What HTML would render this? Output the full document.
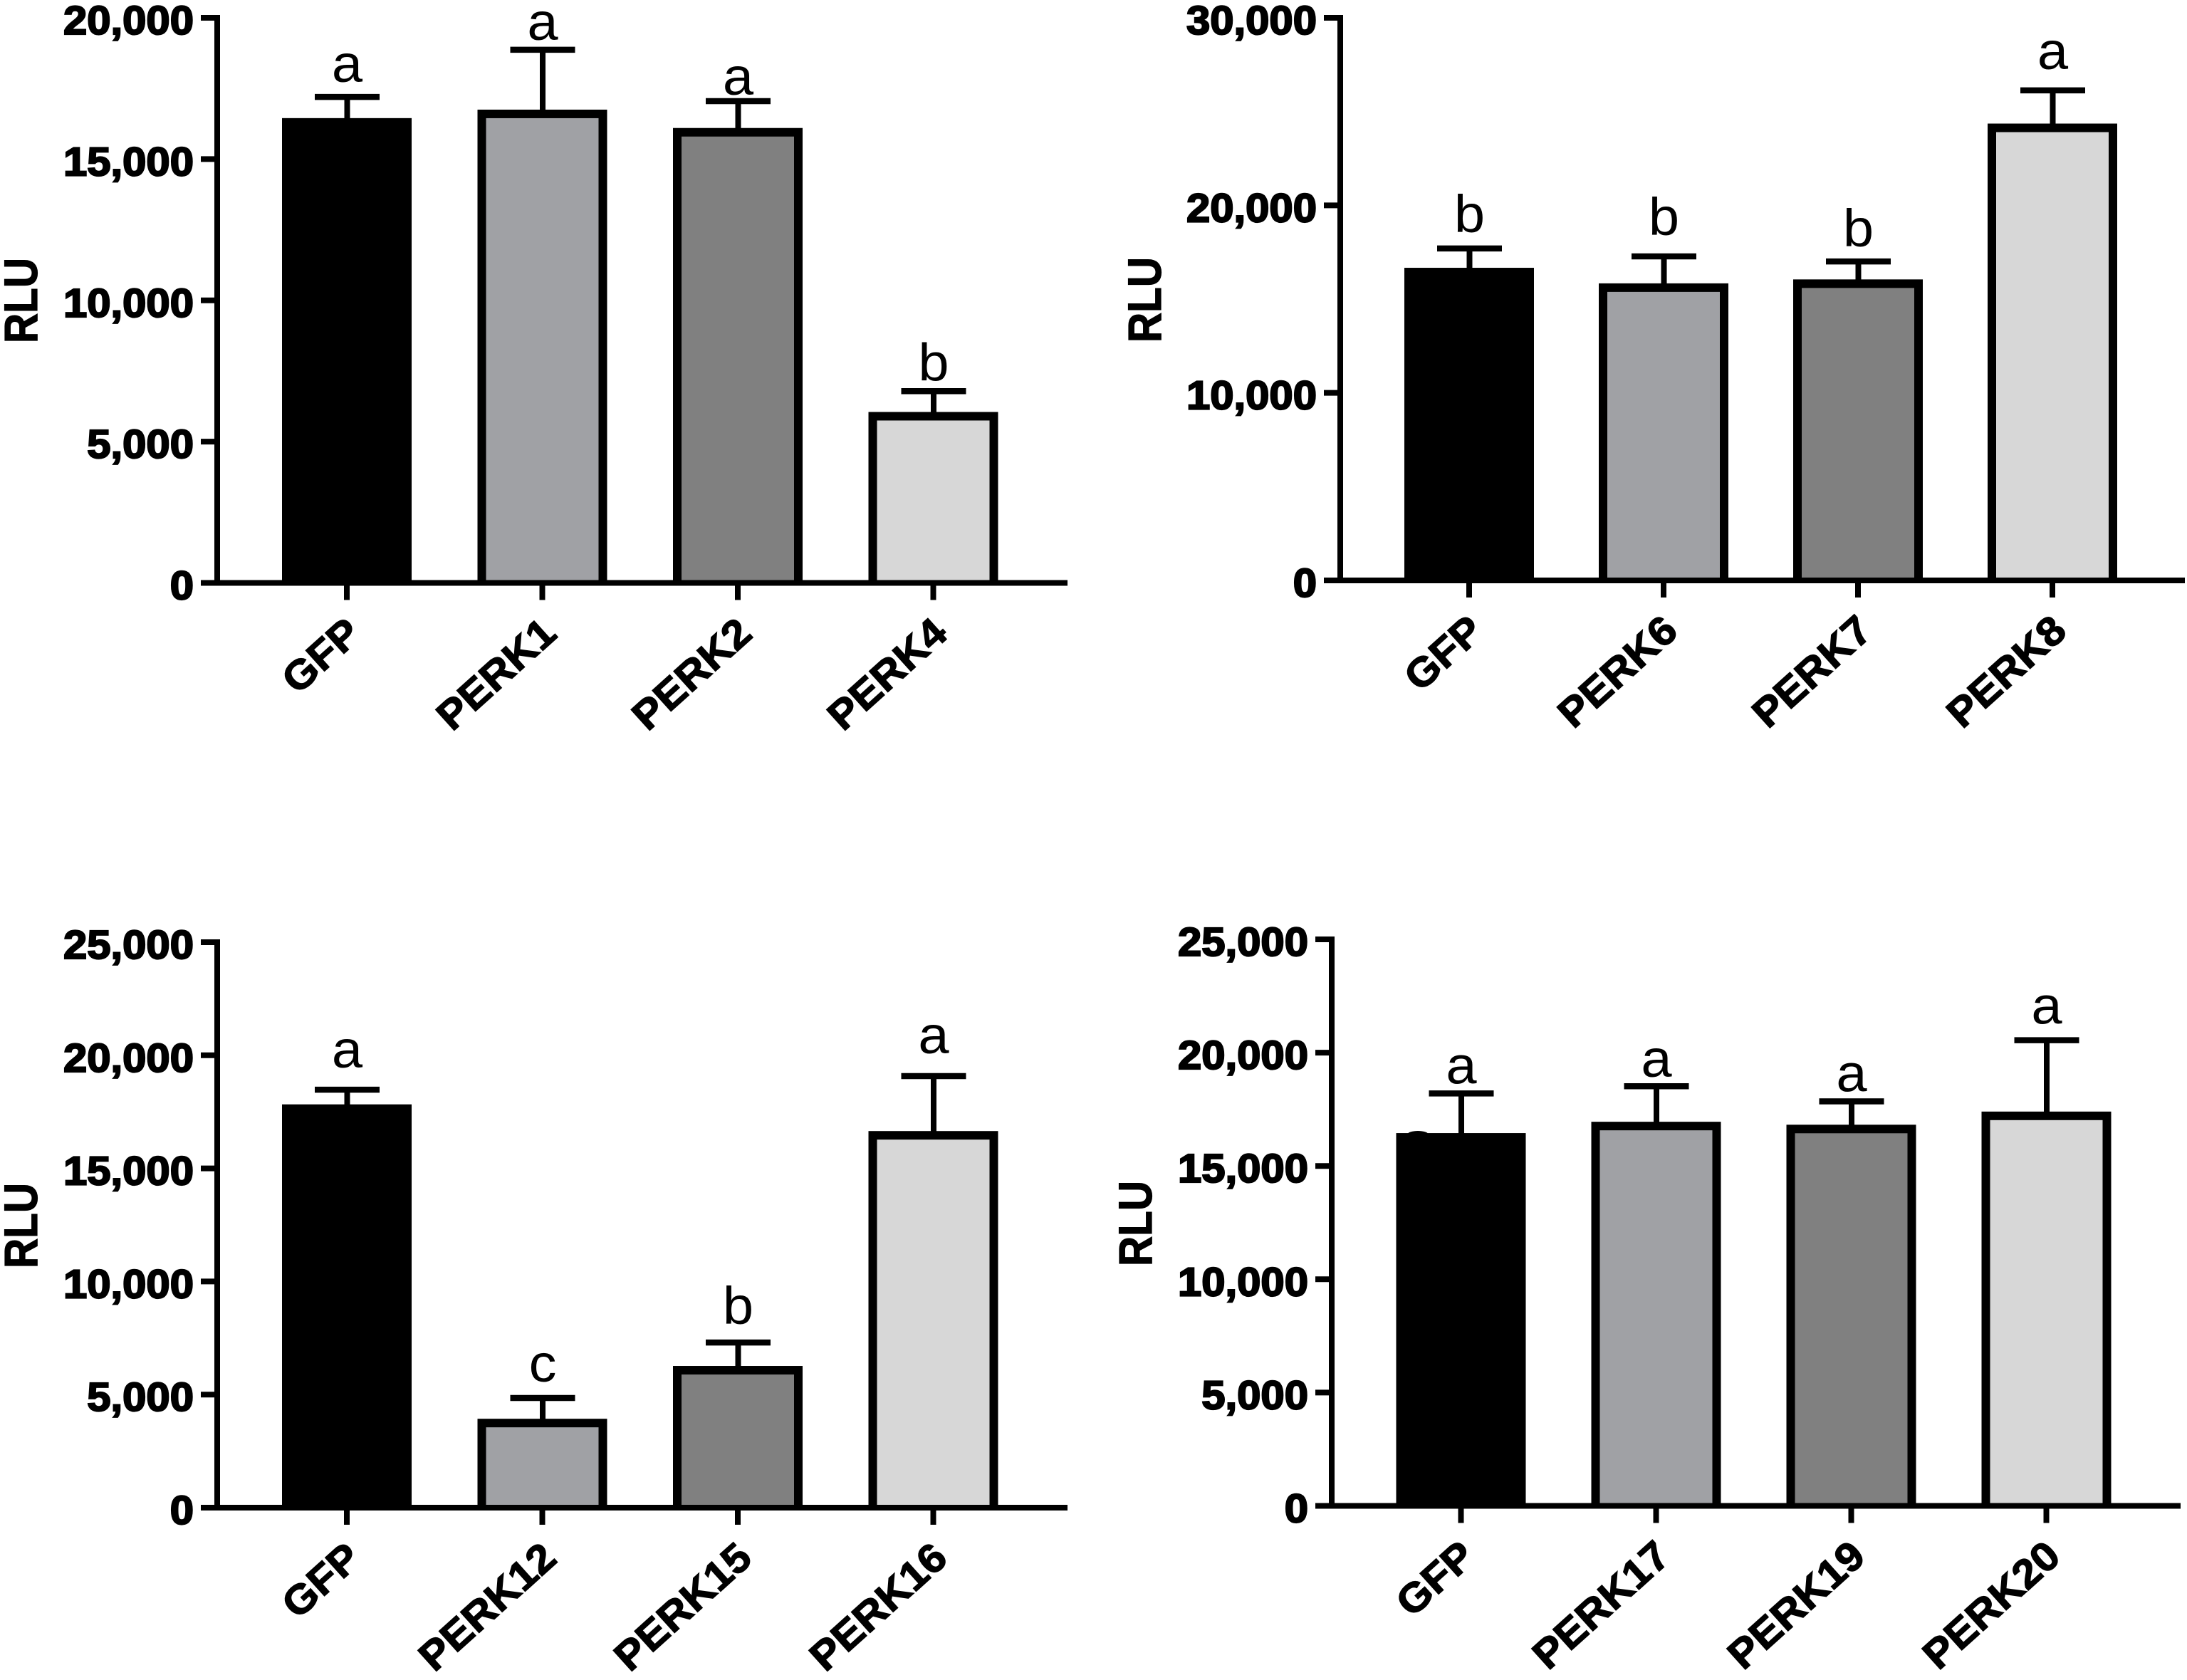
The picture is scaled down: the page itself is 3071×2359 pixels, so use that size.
<!DOCTYPE html>
<html lang="en">
<head>
<meta charset="utf-8">
<title>RLU bar charts for PERK constructs</title>
<style>
html,body{margin:0;padding:0;background:#fff;width:3071px;height:2359px;overflow:hidden}
svg{display:block}
text{font-family:"Liberation Sans",Arial,sans-serif;fill:#000}
.ytick{font-weight:700;font-size:57px;stroke:#000;stroke-width:2.2px;text-anchor:end}
.xtick{font-weight:700;font-size:57px;stroke:#000;stroke-width:1.4px;text-anchor:end}
.ytitle{font-weight:700;font-size:66px;text-anchor:middle;stroke:#000;stroke-width:1.2px}
.letter{font-weight:400;font-size:74px;text-anchor:middle}
</style>
</head>
<body>
<svg id="figure" xmlns="http://www.w3.org/2000/svg" width="3071" height="2359" viewBox="0 0 3071 2359"></svg>
<script>
// Panel A
const categoriesA = ["GFP", "PERK1", "PERK2", "PERK4"];
const meansA = [16450, 16750, 16100, 6050];
const errorTopsA = [17200, 18870, 17050, 6785];
const lettersA = ["a", "a", "a", "b"];
const tickValuesA = [0, 5000, 10000, 15000, 20000];
const tickLabelsA = ["0", "5,000", "10,000", "15,000", "20,000"];

// Panel B
const categoriesB = ["GFP", "PERK6", "PERK7", "PERK8"];
const meansB = [16670, 15840, 16050, 24360];
const errorTopsB = [17700, 17280, 17010, 26130];
const lettersB = ["b", "b", "b", "a"];
const tickValuesB = [0, 10000, 20000, 30000];
const tickLabelsB = ["0", "10,000", "20,000", "30,000"];

// Panel C
const categoriesC = ["GFP", "PERK12", "PERK15", "PERK16"];
const meansC = [17830, 3930, 6265, 16650];
const errorTopsC = [18480, 4850, 7300, 19080];
const lettersC = ["a", "c", "b", "a"];
const tickValuesC = [0, 5000, 10000, 15000, 20000, 25000];
const tickLabelsC = ["0", "5,000", "10,000", "15,000", "20,000", "25,000"];

// Panel D
const categoriesD = ["GFP", "PERK17", "PERK19", "PERK20"];
const meansD = [16450, 16950, 16820, 17400];
const errorTopsD = [18200, 18520, 17850, 20550];
const lettersD = ["a", "a", "a", "a"];
const tickValuesD = [0, 5000, 10000, 15000, 20000, 25000];
const tickLabelsD = ["0", "5,000", "10,000", "15,000", "20,000", "25,000"];

const fills = ["#000000", "#a0a1a5", "#808080", "#d7d7d7"];

const panels = [
  {id:"a", cats:categoriesA, means:meansA, tops:errorTopsA, letters:lettersA, ticks:tickValuesA, labels:tickLabelsA,
   axisX:305, topY:25, zeroY:818.5, firstX:487, step:274.5, endX:1499, titleX:28, titleY:422, gaps:[21,14,9,15], bump:false},
  {id:"b", cats:categoriesB, means:meansB, tops:errorTopsB, letters:lettersB, ticks:tickValuesB, labels:tickLabelsB,
   axisX:1882, topY:25, zeroY:815, firstX:2063, step:273, endX:3068, titleX:1606, titleY:421, gaps:[23,30,21,30], bump:false},
  {id:"c", cats:categoriesC, means:meansC, tops:errorTopsC, letters:lettersC, ticks:tickValuesC, labels:tickLabelsC,
   axisX:305, topY:1323, zeroY:2117, firstX:487, step:274.5, endX:1499, titleX:28, titleY:1721, gaps:[31,23,26,32], bump:false},
  {id:"d", cats:categoriesD, means:meansD, tops:errorTopsD, letters:lettersD, ticks:tickValuesD, labels:tickLabelsD,
   axisX:1870, topY:1319, zeroY:2114.5, firstX:2051.5, step:274, endX:3062, titleX:1593, titleY:1718, gaps:[14,13,14,23], bump:true}
];

const NS = "http://www.w3.org/2000/svg";
const root = document.getElementById("figure");

function make(parent, tag, attrs, txt) {
  const el = document.createElementNS(NS, tag);
  for (const k in attrs) el.setAttribute(k, attrs[k]);
  if (txt !== undefined) el.textContent = txt;
  parent.appendChild(el);
  return el;
}

panels.forEach(function (p) {
  const maxV = p.ticks[p.ticks.length - 1];
  const y = function (v) { return p.zeroY - (v / maxV) * (p.zeroY - p.topY); };
  const x = function (i) { return p.firstX + i * p.step; };
  const BAR_W = 182, BORDER = 12, CAP_W = 91, LINE = 8;

  const g = make(root, "g", {});
  
  

  // bars
  p.means.forEach(function (m, i) {
    const top = y(m);
    const left = x(i) - BAR_W / 2;
    const outer = make(g, "rect", {x:left, y:top, width:BAR_W, height:p.zeroY + 3.5 - top, fill:"#000"});
    
    
    if (i > 0) {
      const innerH = p.zeroY - 3.5 - (top + BORDER);
      const inner = make(g, "rect", {x:left + BORDER, y:top + BORDER, width:BAR_W - 2 * BORDER, height:Math.max(innerH, 0), fill:fills[i]});
      
      
    }
    if (p.bump && i === 0) {
      const blip = make(g, "ellipse", {cx:left + 30.5, cy:top + 1, rx:14, ry:4, fill:"#000"});
      
      
    }
    // error bar
    const capY = y(p.tops[i]);
    const stem = make(g, "line", {x1:x(i) + 0.5, x2:x(i) + 0.5, y1:top + 2, y2:capY, stroke:"#000", "stroke-width":LINE});
    
    
    const cap = make(g, "line", {x1:x(i) + 0.5 - CAP_W / 2, x2:x(i) + 0.5 + CAP_W / 2, y1:capY, y2:capY, stroke:"#000", "stroke-width":8.5});
    
    
    // significance letter
    const letter = make(g, "text", {class:"letter", x:0, y:0,
      transform:"translate(" + (x(i) + 0.5) + " " + (capY - p.gaps[i]) + ") scale(1.05 1)"}, p.letters[i]);
    
    
    // x tick and label
    const xt = make(g, "line", {x1:x(i), x2:x(i), y1:p.zeroY, y2:p.zeroY + 24, stroke:"#000", "stroke-width":LINE});
    
    
    const lx = x(i) + 23, ly = p.zeroY + 75;
    const lab = make(g, "text", {class:"xtick", x:0, y:0,
      transform:"translate(" + lx + " " + ly + ") rotate(-42) scale(1.06 1)"}, p.cats[i]);
    
    
  });

  // axes
  const yAxis = make(g, "line", {x1:p.axisX, x2:p.axisX, y1:p.topY - 4, y2:p.zeroY + 4, stroke:"#000", "stroke-width":LINE});
  
  
  const xAxis = make(g, "line", {x1:p.axisX - 23, x2:p.endX, y1:p.zeroY, y2:p.zeroY, stroke:"#000", "stroke-width":LINE});
  
  

  // y ticks
  p.ticks.forEach(function (v, i) {
    const t = make(g, "line", {x1:p.axisX - 23, x2:p.axisX, y1:y(v), y2:y(v), stroke:"#000", "stroke-width":LINE});
    
    
    const l = make(g, "text", {class:"ytick", x:0, y:0,
      transform:"translate(" + (p.axisX - 33) + " " + (y(v) + 23) + ") scale(1.05 1)"}, p.labels[i]);
    
    
  });

  // y title
  const title = make(g, "text", {class:"ytitle", x:0, y:0, textLength:120, lengthAdjust:"spacingAndGlyphs",
    transform:"translate(" + (p.titleX + 24) + " " + p.titleY + ") rotate(-90)"}, "RLU");
  
  
});
</script>
</body>
</html>
